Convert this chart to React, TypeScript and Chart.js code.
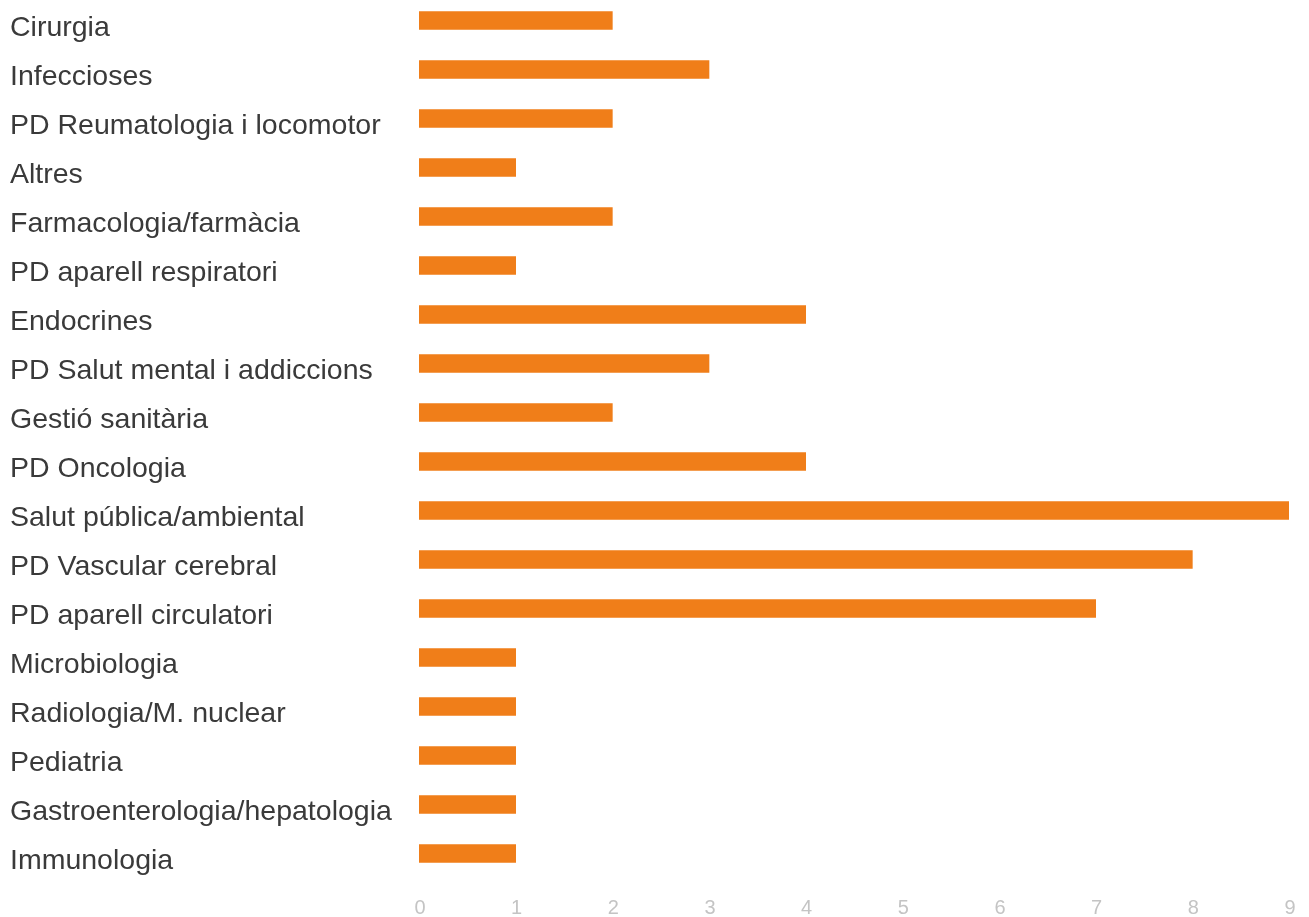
import React, { useEffect, useRef } from "react";
import { Chart, registerables } from "chart.js";

Chart.register(...registerables);

const categories = [
  "Cirurgia",
  "Infeccioses",
  "PD Reumatologia i locomotor",
  "Altres",
  "Farmacologia/farmàcia",
  "PD aparell respiratori",
  "Endocrines",
  "PD Salut mental i addiccions",
  "Gestió sanitària",
  "PD Oncologia",
  "Salut pública/ambiental",
  "PD Vascular cerebral",
  "PD aparell circulatori",
  "Microbiologia",
  "Radiologia/M. nuclear",
  "Pediatria",
  "Gastroenterologia/hepatologia",
  "Immunologia",
];

const values = [2, 3, 2, 1, 2, 1, 4, 3, 2, 4, 9, 8, 7, 1, 1, 1, 1, 1];

const xTicks = [0, 1, 2, 3, 4, 5, 6, 7, 8, 9];

export default function App() {
  const ref = useRef<HTMLCanvasElement | null>(null);

  useEffect(() => {
    if (!ref.current) return;
    const chart = new Chart(ref.current, {
      type: "bar",
      data: {
        labels: categories,
        datasets: [
          {
            data: values,
            backgroundColor: "#F07E19",
            borderWidth: 0,
            barThickness: 18,
          },
        ],
      },
      options: {
        indexAxis: "y",
        animation: false,
        responsive: false,
        maintainAspectRatio: false,
        layout: { padding: { left: 10, right: 20, top: 0, bottom: 0 } },
        plugins: { legend: { display: false }, tooltip: { enabled: false } },
        scales: {
          x: {
            min: 0,
            max: xTicks[xTicks.length - 1],
            grid: { display: false, drawTicks: false },
            border: { display: false },
            afterBuildTicks: (scale: any) => {
              scale.ticks = xTicks.map((v) => ({ value: v }));
            },
            afterFit: (scale: any) => {
              scale.height = 42;
              scale.paddingLeft = 0;
              scale.paddingRight = 0;
              scale.paddingTop = 0;
              scale.paddingBottom = 0;
            },
            ticks: {
              color: "#C4C4C4",
              padding: 18,
              labelOffset: 1,
              font: { family: "Liberation Sans", size: 20 },
            },
          },
          y: {
            grid: { display: false, drawTicks: false },
            border: { display: false },
            afterFit: (scale: any) => {
              scale.width = 409;
              scale.paddingTop = 0;
              scale.paddingBottom = 0;
              scale.paddingLeft = 0;
              scale.paddingRight = 0;
            },
            ticks: {
              crossAlign: "far",
              color: "#3A3A3A",
              labelOffset: 8,
              font: { family: "Liberation Sans", size: 28.5 },
            },
          },
        },
      },
    });
    return () => chart.destroy();
  }, []);

  return (
    <div
      style={{
        position: "fixed",
        left: 0,
        top: 0,
        width: 1309,
        height: 917,
        overflow: "hidden",
        background: "#fff",
      }}
    >
      <canvas
        ref={ref}
        width={1309}
        height={924}
        style={{ position: "absolute", left: 0, top: -4, width: 1309, height: 924 }}
      />
    </div>
  );
}
